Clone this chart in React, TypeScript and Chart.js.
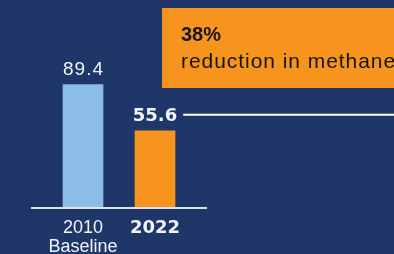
import React, { useEffect, useRef } from "react";
import { Chart, registerables } from "chart.js";

Chart.register(...registerables);

// ---- data ----
const categories: (string | string[])[] = [["2010", "Baseline"], "2022"];
const values: number[] = [89.4, 55.6];
const valueLabels: string[] = ["89.4", "55.6"];
const barColors: string[] = ["#8bbde6", "#f7941d"];
const calloutValue = "38%";
const calloutText = "reduction in methane";

const BG = "#1f3669";
const ORANGE = "#f7941d";
const TEXT_LIGHT = "#f1f3f7";

const annotations = {
  id: "annotations",
  afterDatasetsDraw(chart: any) {
    const { ctx, chartArea, scales } = chart;
    const xs = scales.x;
    const ys = scales.y;
    ctx.save();

    // base line
    ctx.strokeStyle = "#dde2ea";
    ctx.lineWidth = 2;
    ctx.beginPath();
    ctx.moveTo(chartArea.left - 16, chartArea.bottom + 1);
    ctx.lineTo(chartArea.right + 16, chartArea.bottom + 1);
    ctx.stroke();

    // value labels
    values.forEach((v, i) => {
      const px = xs.getPixelForValue(i);
      const py = ys.getPixelForValue(v);
      ctx.fillStyle = TEXT_LIGHT;
      ctx.textAlign = "center";
      ctx.textBaseline = "alphabetic";
      if (i === values.length - 1) {
        ctx.font = "bold 18px 'DejaVu Sans'";
        (ctx as any).letterSpacing = "0px";
        ctx.fillText(valueLabels[i], px, py - 10);
      } else {
        ctx.font = "19px 'Liberation Sans'";
        (ctx as any).letterSpacing = "1px";
        ctx.fillText(valueLabels[i], px + 0.5, py - 10);
        (ctx as any).letterSpacing = "0px";
      }
      if (i === values.length - 1) {
        const w = ctx.measureText(valueLabels[i]).width;
        ctx.strokeStyle = "#ffffff";
        ctx.lineWidth = 2;
        ctx.beginPath();
        ctx.moveTo(px + w / 2 + 6, py - 16);
        ctx.lineTo(chart.width, py - 16);
        ctx.stroke();
      }
    });

    // callout box
    ctx.fillStyle = ORANGE;
    ctx.fillRect(162, 8, chart.width - 162, 80);
    ctx.fillStyle = "#151515";
    ctx.textAlign = "left";
    ctx.textBaseline = "alphabetic";
    ctx.font = "bold 20px 'Liberation Sans'";
    ctx.fillText(calloutValue, 181, 41);
    ctx.font = "21px 'Liberation Sans'";
    (ctx as any).letterSpacing = "0.95px";
    ctx.fillText(calloutText, 181, 68);
    (ctx as any).letterSpacing = "0px";

    ctx.restore();
  },
};

export default function App() {
  const ref = useRef<HTMLCanvasElement | null>(null);

  useEffect(() => {
    if (!ref.current) return;
    const chart = new Chart(ref.current, {
      type: "bar",
      data: {
        labels: categories as any,
        datasets: [
          {
            data: values,
            backgroundColor: barColors,
            borderWidth: 0,
            barThickness: 40,
          },
        ],
      },
      options: {
        animation: false,
        responsive: false,
        layout: { padding: { left: 47, right: 203, top: 70, bottom: 0 } },
        plugins: {
          legend: { display: false },
          tooltip: { enabled: false },
        },
        scales: {
          x: {
            grid: { display: false, drawTicks: false },
            border: { display: false },
            ticks: {
              color: TEXT_LIGHT,
              padding: 12,
              autoSkip: false,
              maxRotation: 0,
              font: (c: any) =>
                c.index === 1
                  ? { family: "'DejaVu Sans'", size: 18, weight: "bold", lineHeight: 1.04 }
                  : { family: "'Liberation Sans'", size: 18, weight: "normal", lineHeight: 1.04 },
            },
            afterFit: (s: any) => {
              s.height = 47;
            },
          },
          y: { display: false, min: 0, max: 100 },
        },
      },
      plugins: [annotations],
    });
    return () => chart.destroy();
  }, []);

  return (
    <div
      style={{
        position: "fixed",
        left: 0,
        top: 0,
        width: 394,
        height: 254,
        background: BG,
        overflow: "hidden",
      }}
    >
      <canvas ref={ref} width={394} height={254} style={{ display: "block" }} />
    </div>
  );
}
